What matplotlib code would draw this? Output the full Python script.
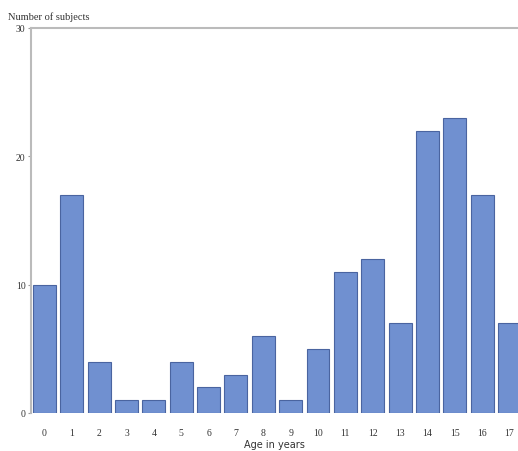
import matplotlib.pyplot as plt
import numpy as np

ages = list(range(18))
subjects = [10, 17, 4, 1, 1, 4, 2, 3, 6, 1, 5, 11, 12, 7, 22, 23, 17, 7]
yticks = [0, 10, 20, 30]

W, H = 518, 452
fig = plt.figure(figsize=(W / 100, H / 100), dpi=100)
ax = fig.add_axes([31 / W, (H - 414) / H, (518 - 31) / W, (414 - 29) / H])

ax.bar(ages, subjects, width=0.84, color='#7090d0', edgecolor='#4a64a0', linewidth=0.8)

ax.set_xlim(-0.49, 17.31)
ax.set_ylim(0, 30)
ax.set_xticks(ages)
ax.set_xticklabels([str(a) for a in ages], family='Liberation Serif', fontsize=7, color='#333333')
ax.set_yticks(yticks)
ax.set_yticklabels([str(t) for t in yticks], family='Liberation Serif', fontsize=7, color='#333333')
ax.tick_params(axis='x', length=0, pad=11)
ax.tick_params(axis='y', length=2, pad=2, color='#999999')

for s in ['left', 'top']:
    ax.spines[s].set_color('#bbbbbb')
    ax.spines[s].set_linewidth(1.5)
ax.spines['right'].set_visible(False)
ax.spines['bottom'].set_visible(False)

ax.set_xlabel('Age in years', fontsize=7, color='#333333', labelpad=1)
fig.text(8 / W, 1 - 17 / H, 'Number of subjects', family='Liberation Serif', fontsize=7.5,
         color='#333333', va='center')

fig.savefig('out.png', dpi=100)
